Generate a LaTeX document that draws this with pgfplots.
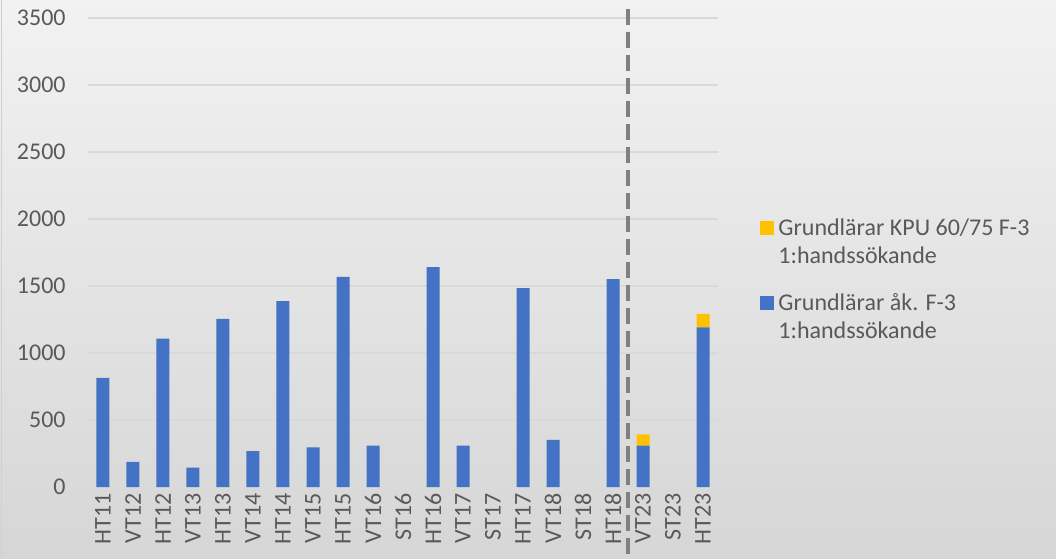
\documentclass[border=0pt]{standalone}
\usepackage{fontspec}
\setmainfont{Carlito}
\usepackage{pgfplots}
\pgfplotsset{compat=1.18}
\definecolor{xblue}{HTML}{4472C4}
\definecolor{xyellow}{HTML}{FFC000}
\definecolor{txt}{HTML}{595959}
\definecolor{gridc}{HTML}{D9D9D9}
\definecolor{bgtop}{HTML}{F2F2F2}
\definecolor{bgbot}{HTML}{D6D6D6}
\definecolor{dashc}{HTML}{808080}
\definecolor{edgec}{HTML}{D0D0D0}
\begin{document}
\fontsize{12}{14.2}\selectfont
\begin{tikzpicture}
\shade[top color=bgtop,bottom color=bgbot] (0,0) rectangle (528pt,279pt);
\draw[edgec, line width=0.6pt] (0.6pt,0) -- (0.6pt,279pt);
\begin{axis}[
  at={(44pt,35.5pt)}, anchor=south west,
  scale only axis, width=315pt, height=234.5pt,
  ybar stacked, bar width=6.5pt,
  xmin=-0.5, xmax=20.5, ymin=0, ymax=3500,
  xtick={0,...,20},
  xticklabels={HT11,VT12,HT12,VT13,HT13,VT14,HT14,VT15,HT15,VT16,ST16,HT16,VT17,ST17,HT17,VT18,ST18,HT18,VT23,ST23,HT23},
  ytick={0,500,...,3500},
  ymajorgrids, major grid style={gridc, line width=0.8pt},
  axis line style={draw=none}, major tick length=0pt,
  tick label style={font=\fontsize{12}{14.2}\selectfont, text=txt},
  /pgf/number format/assume math mode=true,
  /pgf/number format/1000 sep={},
  yticklabel style={anchor=east, inner sep=0pt, xshift=-11pt},
  xticklabel style={rotate=90, anchor=east, inner sep=0pt, inner xsep=3pt},
  clip=false,
  reverse legend,
  legend style={at={(rel axis cs:1.0667,0.5815)}, anchor=north west, draw=none, fill=none,
    inner sep=0pt, font=\fontsize{12}{14.2}\selectfont, text=txt,
    cells={anchor=west, align=left}, row sep=9pt},
  legend image code/.code={\fill[#1] (0pt,4pt) rectangle (7pt,11pt);},
]
\addplot[fill=xblue, draw=none] coordinates {
 (0,815) (1,188) (2,1108) (3,145) (4,1255) (5,268) (6,1388) (7,295) (8,1568)
 (9,308) (10,0) (11,1640) (12,308) (13,0) (14,1485) (15,352) (16,0) (17,1552)
 (18,308) (19,0) (20,1192)};
\addlegendentry{Grundlärar åk. F-3\\1:handssökande}
\addplot[fill=xyellow, draw=none] coordinates {
 (0,0) (1,0) (2,0) (3,0) (4,0) (5,0) (6,0) (7,0) (8,0)
 (9,0) (10,0) (11,0) (12,0) (13,0) (14,0) (15,0) (16,0) (17,0)
 (18,85) (19,0) (20,100)};
\addlegendentry{Grundlärar KPU 60/75 F-3\\1:handssökande}
\draw[dashc, line width=2pt, dash pattern=on 8pt off 3.5pt]
  (axis cs:17.5,3570) -- ([yshift=-36pt]axis cs:17.5,0);
\end{axis}
\pgfresetboundingbox
\path (0,0) rectangle (528pt,279pt);
\end{tikzpicture}
\end{document}
